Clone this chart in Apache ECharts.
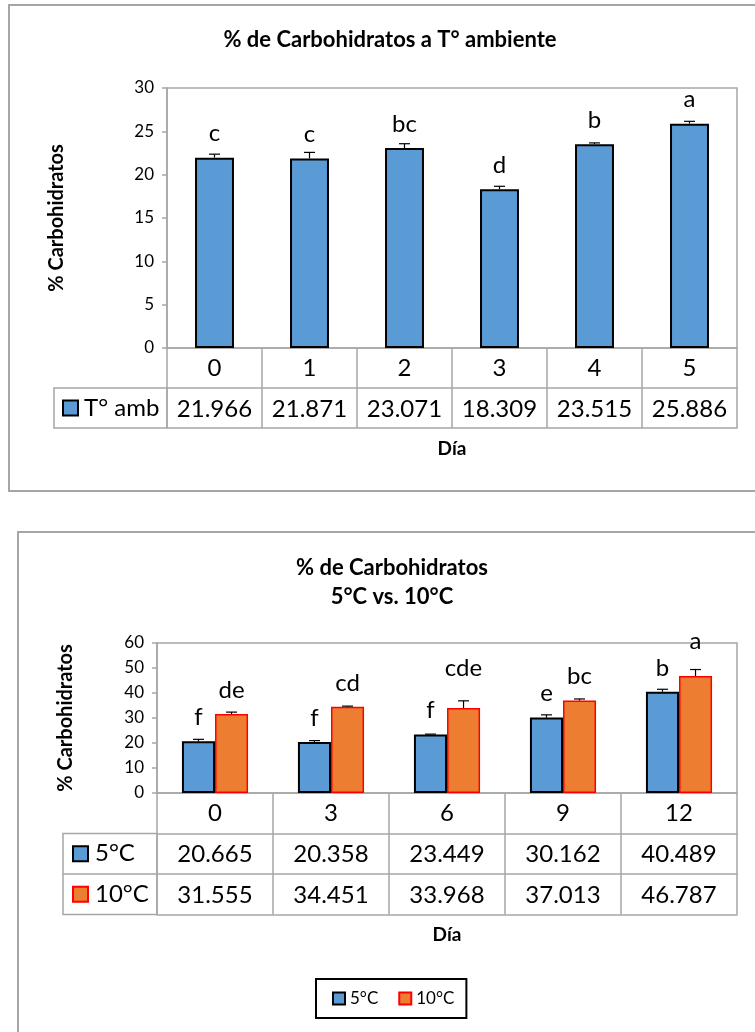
<!DOCTYPE html>
<html>
<head>
<meta charset="utf-8">
<script src="https://cdn.jsdelivr.net/npm/echarts@6/dist/echarts.min.js"></script>
<style>
  html, body { margin: 0; padding: 0; background: #fff; }
  #c { width: 755px; height: 1032px; }
</style>
</head>
<body>
<div id="c"></div>
<script>
// ---- Carbohidratos a temperatura ambiente ----
const diasAmb = ['0', '1', '2', '3', '4', '5'];
const tAmb = [21.966, 21.871, 23.071, 18.309, 23.515, 25.886];
const tAmbErr = [0.4, 0.7, 0.5, 0.35, 0.15, 0.27];
const tAmbLetras = ['c', 'c', 'bc', 'd', 'b', 'a'];

// ---- Carbohidratos en refrigeración: 5 °C vs 10 °C ----
const diasFrio = ['0', '3', '6', '9', '12'];
const t5 = [20.665, 20.358, 23.449, 30.162, 40.489];
const t5Err = [0.8, 0.6, 0.1, 1.1, 1.0];
const t5Letras = ['f', 'f', 'f', 'e', 'b'];
const t10 = [31.555, 34.451, 33.968, 37.013, 46.787];
const t10Err = [0.8, 0.3, 2.9, 0.6, 2.6];
const t10Letras = ['de', 'cd', 'cde', 'bc', 'a'];

const serieAmb = 'T° amb';
const serie5 = '5°C';
const serie10 = '10°C';

// ---- layout and style ----
const FONT = 'Lato, "Liberation Sans", sans-serif';
const GRAY = '#a6a6a6';
const BLUE = '#5b9bd5';
const ORANGE = '#ed7d31';
const g0 = { left: 167, top: 88, width: 570, height: 260 };
const g1 = { left: 157, top: 643, width: 580, height: 150 };
const ROW0 = 40;     // table row height, upper chart
const ROW1 = 40.5;   // table row height, lower chart
const BAR1 = 0.285;  // bar width fraction in the grouped chart
const LABEL_GAP = 12;
const lift10 = [0, 0, 16, 0, 11];  // extra room for letters sitting over tall error bars

const chart = echarts.init(document.getElementById('c'), null, { renderer: 'canvas' });

const txt = (size, bold) => ({ fontSize: size, fontWeight: bold ? 'bold' : 'normal', fontFamily: FONT, color: '#000' });

function tableAxes(gridIndex, cats, rows, rowH) {
  const axes = [{
    gridIndex, type: 'category', data: cats, position: 'bottom',
    axisLine: { lineStyle: { color: GRAY, width: 1.5 } },
    axisTick: { show: true, interval: 0, length: rowH * (rows.length + 1), lineStyle: { color: GRAY, width: 1.5 } },
    axisLabel: Object.assign({ interval: 0, margin: 8 }, txt(24))
  }];
  rows.forEach((vals, k) => {
    axes.push({
      gridIndex, type: 'category', data: vals.map(v => v.toFixed(3)), position: 'bottom',
      offset: rowH * (k + 1),
      axisLine: { lineStyle: { color: GRAY, width: 1.5 } },
      axisTick: { show: false },
      axisLabel: Object.assign({ interval: 0, margin: 9 }, txt(24))
    });
  });
  axes.push({
    gridIndex, type: 'category', data: cats, position: 'bottom',
    offset: rowH * (rows.length + 1),
    axisLine: { lineStyle: { color: GRAY, width: 1.5 } },
    axisTick: { show: false }, axisLabel: { show: false },
    name: 'Día', nameLocation: 'middle', nameGap: 11,
    nameTextStyle: txt(19, true)
  });
  return axes;
}

function yAxisDef(gridIndex, min, max, interval, gap) {
  return {
    gridIndex, type: 'value', min, max, interval,
    axisLine: { show: true, lineStyle: { color: GRAY, width: 1.5 } },
    axisTick: { show: true, length: 5, lineStyle: { color: GRAY, width: 1.5 } },
    splitLine: { show: false },
    axisLabel: Object.assign({ margin: 13 }, txt(17)),
    name: '% Carbohidratos', nameLocation: 'middle', nameRotate: 90, nameGap: gap,
    nameTextStyle: txt(20, true)
  };
}

// one-sided (upper) error bars drawn on the value scale
function errSeries(xAxisIndex, yAxisIndex, vals, errs, shift) {
  return {
    type: 'custom', xAxisIndex, yAxisIndex, z: 5, silent: true,
    encode: { x: 0, y: [1, 2] },
    data: vals.map((v, i) => [i, v, v + errs[i]]),
    renderItem(params, api) {
      const band = api.size([1, 0])[0];
      const x = api.coord([api.value(0), 0])[0] + shift * band;
      const yTop = api.coord([api.value(0), api.value(1)])[1];
      const yErr = api.coord([api.value(0), api.value(2)])[1];
      const cap = 5.5;
      const st = { stroke: '#000', lineWidth: 1.2 };
      return {
        type: 'group', children: [
          { type: 'line', shape: { x1: x, y1: yTop, x2: x, y2: yErr }, style: st },
          { type: 'line', shape: { x1: x - cap, y1: yErr, x2: x + cap, y2: yErr }, style: st }
        ]
      };
    }
  };
}

function barLabel(letters, dist) {
  return Object.assign({
    show: true, position: 'top', distance: dist,
    formatter: p => letters[p.dataIndex]
  }, txt(24));
}

const axes0 = tableAxes(0, diasAmb, [tAmb], ROW0);
const axes1 = tableAxes(1, diasFrio, [t5, t10], ROW1);
const x1Base = axes0.length;

// legend cells of the data tables
function swatch(x, y, fill, stroke) {
  return { type: 'rect', shape: { x, y, width: 15, height: 15 }, style: { fill, stroke, lineWidth: 2 } };
}
const gBottom0 = g0.top + g0.height;
const gBottom1 = g1.top + g1.height;
const graphics = [
  // chart frames
  { type: 'rect', shape: { x: 9, y: 5, width: 800, height: 486 }, style: { fill: 'none', stroke: GRAY, lineWidth: 2 } },
  { type: 'rect', shape: { x: 18, y: 532, width: 800, height: 600 }, style: { fill: 'none', stroke: GRAY, lineWidth: 2 } },
  // titles
  { type: 'text', x: 390, y: 40, style: { text: '% de Carbohidratos a T° ambiente', align: 'center', verticalAlign: 'middle', font: 'bold 22px ' + FONT, fill: '#000' } },
  { type: 'text', x: 392, y: 582, style: { text: '% de Carbohidratos\n5°C vs. 10°C', align: 'center', verticalAlign: 'middle', font: 'bold 22px ' + FONT, lineHeight: 29, fill: '#000' } },
  // upper table legend cell
  { type: 'rect', shape: { x: 54, y: gBottom0 + ROW0, width: g0.left - 54, height: ROW0 }, style: { fill: 'none', stroke: GRAY, lineWidth: 1.5 } },
  swatch(63, gBottom0 + ROW0 * 1.5 - 7.5, BLUE, '#000'),
  { type: 'text', x: 84, y: gBottom0 + ROW0 * 1.5, style: { text: serieAmb, verticalAlign: 'middle', font: '24px ' + FONT, fill: '#000' } },
  // lower table legend cells
  { type: 'rect', shape: { x: 63, y: gBottom1 + ROW1, width: g1.left - 63, height: ROW1 * 2 }, style: { fill: 'none', stroke: GRAY, lineWidth: 1.5 } },
  { type: 'line', shape: { x1: 63, y1: gBottom1 + ROW1 * 2, x2: g1.left, y2: gBottom1 + ROW1 * 2 }, style: { stroke: GRAY, lineWidth: 1.5 } },
  swatch(73, gBottom1 + ROW1 * 1.5 - 7.5, BLUE, '#000'),
  { type: 'text', x: 95, y: gBottom1 + ROW1 * 1.5, style: { text: serie5, verticalAlign: 'middle', font: '24px ' + FONT, fill: '#000' } },
  swatch(73, gBottom1 + ROW1 * 2.5 - 7.5, ORANGE, '#ff0000'),
  { type: 'text', x: 95, y: gBottom1 + ROW1 * 2.5, style: { text: serie10, verticalAlign: 'middle', font: '24px ' + FONT, fill: '#000' } }
];

chart.setOption({
  animation: false,
  backgroundColor: '#fff',
  grid: [
    Object.assign({ show: true, borderColor: GRAY, borderWidth: 1.5, backgroundColor: 'transparent' }, g0),
    Object.assign({ show: true, borderColor: GRAY, borderWidth: 1.5, backgroundColor: 'transparent' }, g1)
  ],
  xAxis: axes0.concat(axes1),
  yAxis: [
    yAxisDef(0, 0, 30, 5, 100),
    yAxisDef(1, 0, 60, 10, 81)
  ],
  legend: {
    data: [serie5, serie10],
    left: 316, top: 979,
    orient: 'horizontal',
    padding: [11, 12, 11, 16],
    itemGap: 20, itemWidth: 12, itemHeight: 12,
    icon: 'rect',
    borderColor: '#000', borderWidth: 2,
    textStyle: txt(17)
  },
  series: [
    {
      name: serieAmb, type: 'bar', xAxisIndex: 0, yAxisIndex: 0,
      data: tAmb, barWidth: '41%',
      itemStyle: { color: BLUE, borderColor: '#000', borderWidth: 2 },
      label: barLabel(tAmbLetras, LABEL_GAP)
    },
    errSeries(0, 0, tAmb, tAmbErr, 0),
    {
      name: serie5, type: 'bar', xAxisIndex: x1Base, yAxisIndex: 1,
      data: t5, barWidth: (BAR1 * 100) + '%', barGap: '0%',
      itemStyle: { color: BLUE, borderColor: '#000', borderWidth: 2 },
      label: barLabel(t5Letras, LABEL_GAP)
    },
    {
      name: serie10, type: 'bar', xAxisIndex: x1Base, yAxisIndex: 1,
      data: t10.map((v, i) => ({ value: v, label: { distance: LABEL_GAP + lift10[i] } })),
      barWidth: (BAR1 * 100) + '%', barGap: '0%',
      itemStyle: { color: ORANGE, borderColor: '#ff0000', borderWidth: 1.5 },
      label: barLabel(t10Letras, LABEL_GAP)
    },
    errSeries(x1Base, 1, t5, t5Err, -BAR1 / 2),
    errSeries(x1Base, 1, t10, t10Err, BAR1 / 2)
  ],
  graphic: graphics
});
</script>
</body>
</html>
